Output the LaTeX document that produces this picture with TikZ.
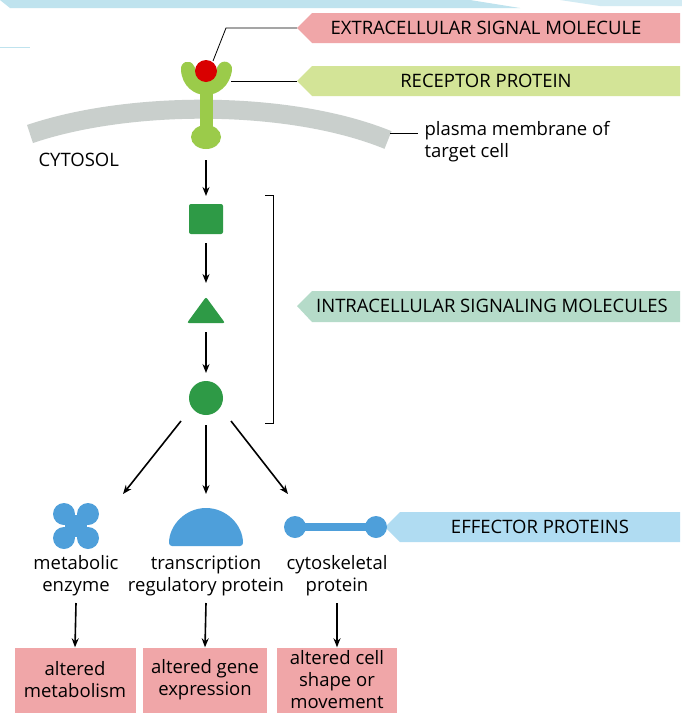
\documentclass[tikz,border=0pt]{standalone}
\usepackage{fontspec}
\setmainfont{Open Sans}
\usetikzlibrary{arrows.meta}
\definecolor{pinkc}{HTML}{F0A6A8}
\definecolor{greenl}{HTML}{D3E497}
\definecolor{tealc}{HTML}{B5DBC9}
\definecolor{bluel}{HTML}{B0DCF2}
\definecolor{recg}{HTML}{9BCB4A}
\definecolor{dg}{HTML}{2E9A46}
\definecolor{eb}{HTML}{4E9FDA}
\definecolor{memg}{HTML}{C9CFCC}
\definecolor{deco}{HTML}{BFE3EE}
\begin{document}
\begin{tikzpicture}[x=1pt,y=-1pt,font=\fontsize{18.5}{22}\selectfont,
  tag/.style={inner sep=0pt},
  arr/.style={-{Stealth[length=9pt,width=7pt]},line width=1.6pt},
  lead/.style={line width=0.8pt},
  box/.style={fill=pinkc,minimum width=121pt,minimum height=65pt,align=center,inner sep=1pt}]
\useasboundingbox (0,0) rectangle (682,718);
\fill[white] (0,0) rectangle (682,718);
% decoration
\fill[deco] (0,0) -- (470,0) -- (520,8) -- (10,8) -- cycle;
\fill[deco!70] (560,0) -- (682,0) -- (682,6) -- (600,6) -- cycle;
\draw[deco,line width=1pt] (0,47) -- (30,47);
% tags
\fill[pinkc] (297,28) -- (312,13) -- (680,13) -- (680,43) -- (312,43) -- cycle;
\node[tag] (t1) at (486,28) {EXTRACELLULAR SIGNAL MOLECULE};
\fill[greenl] (297,81) -- (312,66) -- (680,66) -- (680,96) -- (312,96) -- cycle;
\node[tag] (t2) at (486,81) {RECEPTOR PROTEIN};
\fill[tealc] (297,306) -- (312,291) -- (680,291) -- (680,322) -- (312,322) -- cycle;
\node[tag] (t3) at (492,306) {INTRACELLULAR SIGNALING MOLECULES};
\fill[bluel] (385,527) -- (400,512) -- (680,512) -- (680,542) -- (400,542) -- cycle;
\node[tag] (t4) at (540,527) {EFFECTOR PROTEINS};
% membrane
\draw[memg,line width=19pt] (30,134) .. controls (130,100) and (290,100) .. (388,140);
% receptor
\fill[recg] (200,88) rectangle (213,130);
\fill[recg] (206,137) ellipse (15pt and 12pt);
\fill[recg] (181,70) .. controls (180,62) and (190,58) .. (194,66) .. controls (198,78) and (214,78) .. (218,66) .. controls (222,58) and (233,62) .. (232,70) .. controls (230,86) and (218,95) .. (206,95) .. controls (194,95) and (182,86) .. (181,70) -- cycle;
\node[circle,fill=red!85!black,minimum size=22pt,inner sep=0pt] (sig) at (206,71) {};
\coordinate (c1) at (226,28);
\draw[lead] (213,61) -- (c1) -- (297,28);
\draw[lead] (231,81) -- (297,81);
\draw[lead] (390,133) -- (418,133);
\node[anchor=west,align=left] (pm) at (421,142) {plasma membrane of\\target cell};
\node[anchor=west] (cy) at (35,160) {CYTOSOL};
% cascade
\node[fill=dg,rounded corners=2pt,minimum width=34pt,minimum height=30pt,inner sep=0pt] (sq) at (206,219) {};
\fill[dg,rounded corners=2pt] (187,323) -- (206,297) -- (225,323) -- cycle;
\node[circle,fill=dg,minimum size=34pt,inner sep=0pt] (ci) at (206,398) {};
\coordinate (r1) at (206,160);
\draw[arr] (r1) -- (206,196);
\draw[arr] (206,243) -- (206,283);
\draw[arr] (206,332) -- (206,373);
\draw[lead] (265,195) -- (273,195) -- (273,423) -- (265,423);
% effectors
\foreach \dx/\dy in {-12/-12,12/-12,-12/12,12/12} \fill[eb] (76+\dx,526+\dy) circle (11pt);
\fill[eb] (70,515) rectangle (82,537);\fill[eb] (65,520) rectangle (87,532);
\fill[eb,rounded corners=3pt] (169,546) arc[start angle=180,end angle=0,x radius=37pt,y radius=38pt] -- cycle;
\fill[eb] (295,523) rectangle (376,531);
\fill[eb] (295,527) circle (11pt);\fill[eb] (376,527) circle (11pt);
\draw[arr] (181,421) -- (123,494);
\draw[arr] (206,425) -- (206,494);
\draw[arr] (231,421) -- (288,494);
\node[align=center] (l1) at (76,576) {metabolic\\enzyme};
\node[align=center] (l2) at (206,576) {transcription\\regulatory protein};
\node[align=center] (l3) at (337,576) {cytoskeletal\\protein};
\node[box] (b1) at (75,680) {altered\\metabolism};
\node[box,minimum width=124pt] (b2) at (205,680) {altered gene\\expression};
\node[box,minimum width=120pt] (b3) at (337,680) {altered cell\\shape or\\movement};
\draw[arr] (76,603) -- (b1.north);
\draw[arr] (206,603) -- (b2.north);
\draw[arr] (337,603) -- (b3.north);
\end{tikzpicture}
\end{document}
